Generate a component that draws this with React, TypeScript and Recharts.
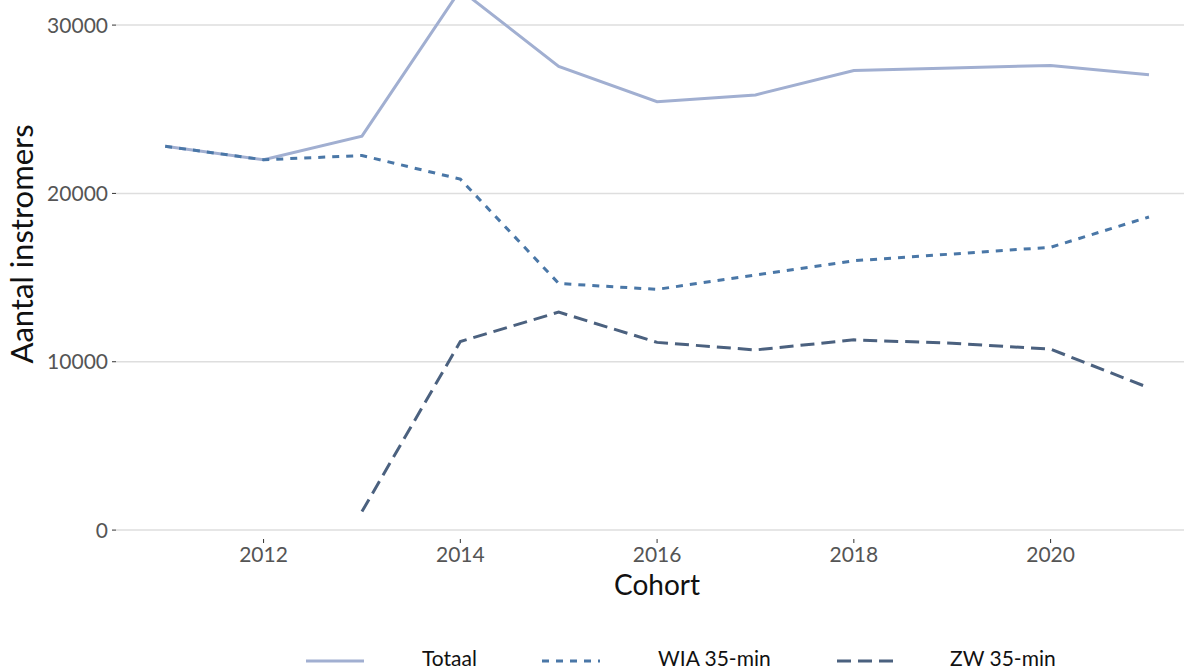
import React from 'react';
import { LineChart, Line, XAxis, YAxis, CartesianGrid, Label } from 'recharts';

const years = [2011, 2012, 2013, 2014, 2015, 2016, 2017, 2018, 2019, 2020, 2021];
const totaal = [22800, 22000, 23400, 32100, 27550, 25450, 25850, 27300, 27450, 27600, 27050];
const wia = [22800, 22000, 22250, 20850, 14650, 14300, 15150, 16000, 16400, 16800, 18600];
const zw = [null, null, 1100, 11200, 12950, 11150, 10700, 11300, 11100, 10750, 8450];

const xTicks = [2012, 2014, 2016, 2018, 2020];
const yTicks = [0, 10000, 20000, 30000];

const series = [
  { key: 'totaal', name: 'Totaal', color: '#a1afd1', dash: undefined },
  { key: 'wia', name: 'WIA 35-min', color: '#4a77a7', dash: '7 7' },
  { key: 'zw', name: 'ZW 35-min', color: '#4b617f', dash: '14 7' },
];

// legend layout: where each key sample and its text start
const legendLayout = [
  { line: 306, text: 422 },
  { line: 542, text: 658 },
  { line: 837, text: 950 },
];

const data = years.map((year, i) => ({ year, totaal: totaal[i], wia: wia[i], zw: zw[i] }));

const font = 'Lato, "Open Sans", sans-serif';
const tickStyle = { fill: '#555', fontSize: 21, fontFamily: font };

const App: React.FC = () => {
  return (
    <div style={{ position: 'absolute', top: 0, left: 0, width: 1184, height: 671, background: '#fff', fontFamily: font, overflow: 'hidden' }}>
      <LineChart width={1184} height={671} data={data} margin={{ top: 0, right: 0, bottom: 0, left: 0 }}>
        <CartesianGrid vertical={false} horizontalValues={yTicks} stroke="#dedede" strokeWidth={1.5} />
        <XAxis
          dataKey="year"
          type="number"
          domain={[2010.5, 2021.356]}
          ticks={xTicks}
          allowDataOverflow
          axisLine={false}
          tickSize={4}
          tickMargin={4}
          tickLine={{ stroke: '#333' }}
          tick={tickStyle}
          height={132}
        >
          <Label
            content={() => (
              <text x={657} y={595} textAnchor="middle" fontSize={28} fontFamily={font} fill="#111">
                Cohort
              </text>
            )}
          />
        </XAxis>
        <YAxis
          domain={[-530, 31490]}
          ticks={yTicks}
          allowDataOverflow
          axisLine={false}
          tickSize={4}
          tickMargin={4}
          tickLine={{ stroke: '#333' }}
          tick={tickStyle}
          width={116}
        >
          <Label
            content={() => (
              <text x={33} y={244} textAnchor="middle" fontSize={31} fontFamily={font} fill="#111" transform="rotate(-90 33 244)">
                Aantal instromers
              </text>
            )}
          />
        </YAxis>
        {series.map((s) => (
          <Line
            key={s.key}
            type="linear"
            dataKey={s.key}
            name={s.name}
            stroke={s.color}
            strokeWidth={3}
            strokeDasharray={s.dash}
            dot={false}
            activeDot={false}
            connectNulls={false}
            isAnimationActive={false}
          />
        ))}
      </LineChart>
      {series.map((s, i) => (
        <React.Fragment key={s.key}>
          <svg width={58} height={10} style={{ position: 'absolute', left: legendLayout[i].line, top: 656 }}>
            <line x1={0} y1={5} x2={58} y2={5} stroke={s.color} strokeWidth={3} strokeDasharray={s.dash} />
          </svg>
          <span style={{ position: 'absolute', left: legendLayout[i].text, top: 646, fontSize: 21, lineHeight: '24px', color: '#111', whiteSpace: 'nowrap' }}>
            {s.name}
          </span>
        </React.Fragment>
      ))}
    </div>
  );
};

export default App;
